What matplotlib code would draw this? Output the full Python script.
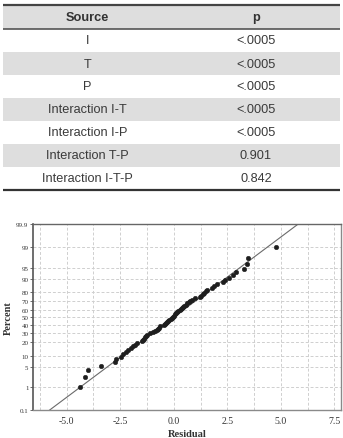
import matplotlib
matplotlib.use('Agg')
import matplotlib.pyplot as plt
from matplotlib.patches import Rectangle
from statistics import NormalDist

# ---------------- data ----------------
sources = ["I", "T", "P", "Interaction I-T", "Interaction I-P",
           "Interaction T-P", "Interaction I-T-P"]
p_values = ["<.0005", "<.0005", "<.0005", "<.0005", "<.0005", "0.901", "0.842"]

residuals = [-4.39, -4.15, -4.02, -3.42, -2.75, -2.70, -2.48, -2.36, -2.24, -2.13,
             -2.02, -1.92, -1.83, -1.72, -1.47, -1.43, -1.39, -1.35, -1.30, -1.24,
             -1.10, -0.97, -0.87, -0.79, -0.72, -0.68, -0.64, -0.47, -0.41, -0.36,
             -0.30, -0.25, -0.20, -0.13, -0.07, -0.02, 0.03, 0.08, 0.12, 0.17,
             0.22, 0.27, 0.32, 0.37, 0.42, 0.48, 0.55, 0.62, 0.70, 0.78,
             0.86, 1.01, 1.21, 1.29, 1.35, 1.43, 1.51, 1.56, 1.80, 1.88,
             2.02, 2.30, 2.41, 2.56, 2.75, 2.92, 3.28, 3.42, 3.49, 4.78]
percents = [1.0, 2.4, 3.8, 5.3, 6.7, 8.1, 9.5, 10.9, 12.4, 13.8,
            15.2, 16.6, 18.0, 19.5, 20.9, 22.3, 23.7, 25.1, 26.6, 28.0,
            29.4, 30.8, 32.2, 33.7, 35.1, 36.5, 37.9, 39.3, 40.8, 42.2,
            43.6, 45.0, 46.4, 47.9, 49.3, 50.7, 52.1, 53.6, 55.0, 56.4,
            57.8, 59.2, 60.7, 62.1, 63.5, 64.9, 66.3, 67.8, 69.2, 70.6,
            72.0, 73.4, 74.9, 76.3, 77.7, 79.1, 80.5, 82.0, 83.4, 84.8,
            86.2, 87.6, 89.1, 90.5, 91.9, 93.3, 94.7, 96.2, 97.6, 99.0]
fit_mean = 0.0
fit_sd = 1.875

y_ticks_pct = [0.1, 1, 5, 10, 20, 30, 40, 50, 60, 70, 80, 90, 95, 99, 99.9]
y_tick_labels = ["0.1", "1", "5", "10", "20", "30", "40", "50", "60", "70",
                 "80", "90", "95", "99", "99.9"]
x_ticks = [-5.0, -2.5, 0.0, 2.5, 5.0, 7.5]
x_tick_labels = ["-5.0", "-2.5", "0.0", "2.5", "5.0", "7.5"]
x_grid = [-6.25, -5.0, -3.75, -2.5, -1.25, 0.0, 1.25, 2.5, 3.75, 5.0, 6.25, 7.5]

nd = NormalDist()
def zq(p):
    return nd.inv_cdf(p / 100.0)

# ---------------- figure ----------------
W, H = 343, 439
fig = plt.figure(figsize=(W / 100, H / 100), dpi=100)

# ---- table drawn in pixel coordinates ----
tax = fig.add_axes([0, 0, 1, 1], zorder=0)
tax.set_xlim(0, W)
tax.set_ylim(H, 0)
tax.axis('off')

tx0, tx1 = 3, 340
colsplit = 172
head_top, head_bot = 6.0, 29.5
row_h = (190.5 - head_bot) / len(sources)
gray = '#dedede'
tax.add_patch(Rectangle((tx0, head_top), tx1 - tx0, head_bot - head_top,
                        facecolor=gray, edgecolor='none'))
for i in range(len(sources)):
    y0 = head_bot + i * row_h
    if i % 2 == 1:
        tax.add_patch(Rectangle((tx0, y0), tx1 - tx0, row_h,
                                facecolor=gray, edgecolor='none'))
tax.plot([tx0, tx1], [5.5, 5.5], color='#444444', lw=1.6, solid_capstyle='butt')
tax.plot([tx0, tx1], [head_bot, head_bot], color='#555555', lw=1.2, solid_capstyle='butt')
tax.plot([tx0, tx1], [190.8, 190.8], color='#333333', lw=1.6, solid_capstyle='butt')

c1 = (tx0 + colsplit) / 2
c2 = (colsplit + tx1) / 2
tfont = dict(family=['Liberation Sans', 'DejaVu Sans'], fontsize=9.2)
tax.text(c1, (head_top + head_bot) / 2 + 0.5, "Source", ha='center', va='center',
         fontweight='bold', color='#333333', **tfont)
tax.text(c2, (head_top + head_bot) / 2 + 0.5, "p", ha='center', va='center',
         fontweight='bold', color='#333333', **tfont)
for i, (s, p) in enumerate(zip(sources, p_values)):
    yc = head_bot + (i + 0.5) * row_h + 0.5
    tax.text(c1, yc, s, ha='center', va='center', color='#3a3a3a', **tfont)
    tax.text(c2, yc, p, ha='center', va='center', color='#3a3a3a', **tfont)

# ---- probability plot ----
left, right = 33.3, 341.0
top, bottom = 225.3, 411.0
ax = fig.add_axes([left / W, 1 - bottom / H, (right - left) / W, (bottom - top) / H],
                  zorder=2)
ax.set_xlim(-6.56, 7.81)
ax.set_ylim(zq(0.1), zq(99.9))

for gx in x_grid:
    ax.axvline(gx, color='#cfcfcf', lw=0.7, ls=(0, (3, 2)), zorder=0)
for gp in y_ticks_pct[1:-1]:
    ax.axhline(zq(gp), color='#cfcfcf', lw=0.7, ls=(0, (3, 2)), zorder=0)

zl = [zq(0.1), zq(99.9)]
ax.plot([fit_mean + fit_sd * z for z in zl], zl, color='#6a6a6a', lw=0.8, zorder=2)
ax.plot(residuals, [zq(p) for p in percents], 'o', color='#1e1e1e',
        ms=3.3, mec='#1e1e1e', mew=0.3, zorder=3)

serif = ['Liberation Serif', 'DejaVu Serif']
ax.set_xticks(x_ticks)
ax.set_xticklabels(x_tick_labels, family=serif, fontsize=7, color='#333333')
ax.set_yticks([zq(p) for p in y_ticks_pct])
ax.set_yticklabels(y_tick_labels, family=serif, fontsize=5, color='#333333')
ax.tick_params(axis='both', direction='out', length=2, width=0.6, color='#555555', pad=1.5)
ax.tick_params(axis='x', length=0, pad=4.5)

for side in ['top', 'right', 'bottom']:
    ax.spines[side].set_color('#8a8a8a')
    ax.spines[side].set_linewidth(1.0)
ax.spines['left'].set_color('#555555')
ax.spines['left'].set_linewidth(1.2)
ax.spines['top'].set_color('#666666')

ax.set_xlabel("Residual", family=serif, fontsize=7.5, fontweight='bold',
              color='#333333', labelpad=2.5)
ax.set_ylabel("Percent", family=serif, fontsize=7.5, fontweight='bold',
              color='#333333', labelpad=2.5)

fig.savefig('out.png', dpi=100)
